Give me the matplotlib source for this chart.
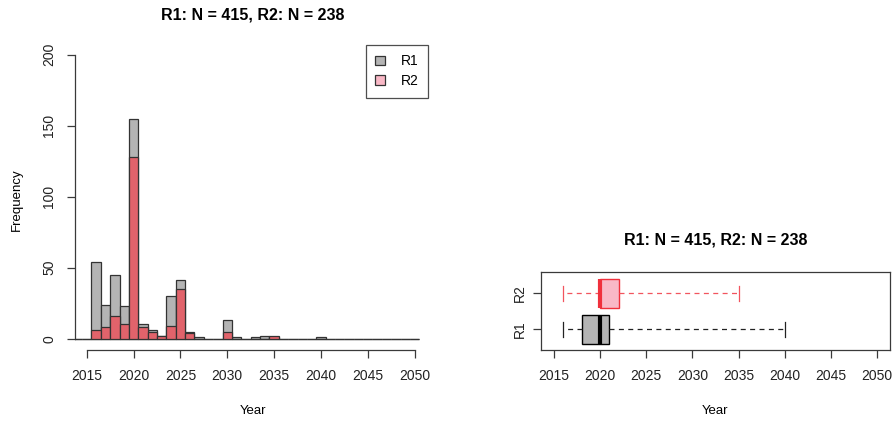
import matplotlib
matplotlib.use('Agg')
import numpy as np
import matplotlib.pyplot as plt

plt.rcParams['font.family'] = ['Liberation Sans', 'DejaVu Sans']

#---------------------------------------------------------------------------
# yearly counts for the two groups (one bin per year, centred on the year)

years = [2013, 2014, 2015, 2016, 2017, 2018, 2019, 2020, 2021, 2022,
         2023, 2024, 2025, 2026, 2027, 2028, 2029, 2030, 2031, 2032,
         2033, 2034, 2035, 2036, 2037, 2038, 2039, 2040, 2041, 2042,
         2043, 2044, 2045, 2046, 2047, 2048, 2049, 2050]
r1_counts = [0, 0, 0, 54, 24, 45, 23, 155, 10, 6,
             2, 30, 41, 5, 1, 0, 0, 13, 1, 0,
             1, 2, 1, 0, 0, 0, 0, 1, 0, 0,
             0, 0, 0, 0, 0, 0, 0, 0]
r2_counts = [0, 0, 0, 6, 8, 16, 10, 128, 8, 5,
             2, 9, 35, 4, 0, 0, 0, 5, 0, 0,
             0, 0, 2, 0, 0, 0, 0, 0, 0, 0,
             0, 0, 0, 0, 0, 0, 0, 0]
groups = ['R1', 'R2']
year_ticks = [2015, 2020, 2025, 2030, 2035, 2040, 2045, 2050]
freq_ticks = [0, 50, 100, 150, 200]

r1 = np.repeat(years, r1_counts)
r2 = np.repeat(years, r2_counts)
title = 'R1: N = %d, R2: N = %d' % (len(r1), len(r2))

col_r1 = '#B4B4B4'
col_r2_hist = '#E1636B'
col_r2_light = '#F9B8C6'
col_r2_line = '#F0303C'
col_r2_dash = '#F2545E'
col_axis = '#3A3A3A'

W, H = 895, 424
fig = plt.figure(figsize=(W/100., H/100.), dpi=100)

def px_axes(l, r, t, b):
  return fig.add_axes([l/W, 1-b/H, (r-l)/W, (b-t)/H])

#===========================================================================
# Histogram

ax = px_axes(75, 430, 50, 350)
ax.bar(years, r1_counts, width=1.0, color=col_r1, edgecolor='#333333', linewidth=0.9, zorder=2)
ax.bar(years, r2_counts, width=1.0, color=col_r2_hist, edgecolor='#333333', linewidth=0.9, zorder=3)
ax.set_xlim(2013.75, 2051.64)
ax.set_ylim(-7.96, 203.3)

for s in ['top', 'right']:
  ax.spines[s].set_visible(False)
ax.spines['left'].set_bounds(0, 200)
ax.spines['bottom'].set_bounds(2015, 2050)
for s in ['left', 'bottom']:
  ax.spines[s].set_color(col_axis)
  ax.spines[s].set_linewidth(0.9)

ax.set_xticks(year_ticks)
ax.set_yticks(freq_ticks)
ax.tick_params(colors=col_axis, labelcolor='#222222', length=5.5, width=0.9, labelsize=10)
ax.tick_params(axis='x', pad=8)
ax.tick_params(axis='y', pad=8)
for lab in ax.get_yticklabels():
  lab.set_rotation(90)
  lab.set_va('center')

ax.set_title(title, fontsize=11.5, fontweight='bold', pad=0, y=(50-(14.5))/300.+1.0, va='center')
ax.set_xlabel('Year', fontsize=9.5, labelpad=16)
ax.set_ylabel('Frequency', fontsize=9.5, labelpad=14)

leg = ax.legend([plt.Rectangle((0, 0), 1, 1, fc=col_r1, ec='#333333', lw=0.9),
                 plt.Rectangle((0, 0), 1, 1, fc=col_r2_light, ec='#333333', lw=0.9)],
                groups, loc='upper right', bbox_to_anchor=(428/W, 1-44.5/H),
                bbox_transform=fig.transFigure, frameon=True, fancybox=False,
                fontsize=10, handlelength=0.7, handleheight=0.7, handletextpad=1.1,
                labelspacing=0.4, borderpad=0.7, borderaxespad=0)
leg.get_frame().set_edgecolor('#222222')
leg.get_frame().set_linewidth(0.9)

#===========================================================================
# Horizontal boxplots (whiskers reach the extremes)

def box_stats(d, label):
  return dict(label=label, whislo=d.min(), whishi=d.max(), fliers=[],
              q1=np.percentile(d, 25, method='lower'),
              med=np.percentile(d, 50, method='lower'),
              q3=np.percentile(d, 75, method='lower'))

bx = px_axes(541, 890, 272.4, 350.2)
styles = [(r1, 'R1', col_r1, 'black', '#222222'),
          (r2, 'R2', col_r2_light, col_r2_line, col_r2_dash)]
for k, (d, lab, fc, ec, lc) in enumerate(styles):
  bx.bxp([box_stats(d, lab)], positions=[k+1], widths=0.8, capwidths=0.42,
         orientation='horizontal', patch_artist=True, showfliers=False,
         boxprops=dict(facecolor=fc, edgecolor=ec, linewidth=1.0),
         whiskerprops=dict(color=lc, linewidth=0.9, linestyle=(0, (4, 3.5))),
         capprops=dict(color=lc, linewidth=0.9),
         medianprops=dict(color=ec, linewidth=3.0, solid_capstyle='butt'),
         manage_ticks=False)

bx.set_xlim(2013.6, 2051.4)
bx.set_ylim(0.42, 2.58)
bx.set_xticks(year_ticks)
bx.set_yticks([1, 2])
bx.set_yticklabels(groups)
for s in bx.spines.values():
  s.set_color(col_axis)
  s.set_linewidth(0.9)
bx.tick_params(colors=col_axis, labelcolor='#222222', length=5.5, width=0.9, labelsize=10)
bx.tick_params(axis='x', pad=8)
bx.tick_params(axis='y', pad=5)
for lab in bx.get_yticklabels():
  lab.set_rotation(90)
  lab.set_va('center')
bx.set_title(title, fontsize=11.5, fontweight='bold', pad=0, y=1.0+(272.4-240)/77.8, va='center')
bx.set_xlabel('Year', fontsize=9.5, labelpad=16)

fig.savefig('out.png', dpi=100)
